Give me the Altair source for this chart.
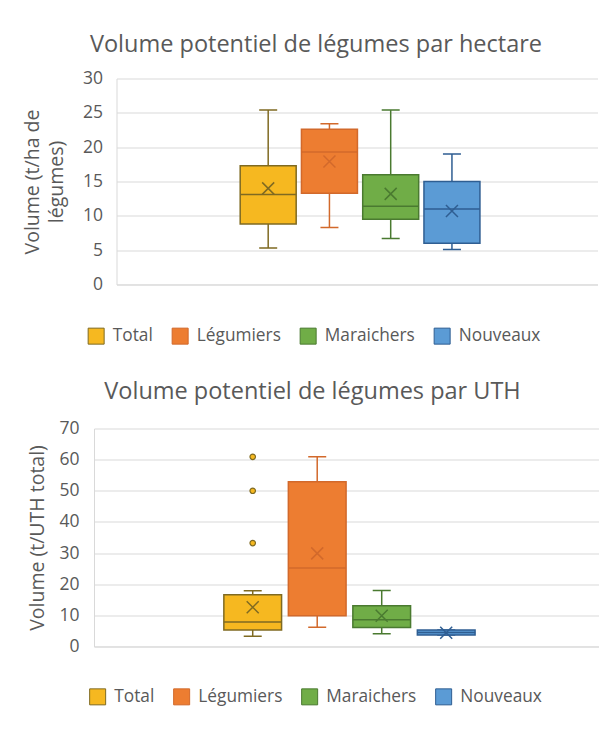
import altair as alt
import pandas as pd

series = ["Total", "Légumiers", "Maraichers", "Nouveaux"]
fill_colors = ["#F6B820", "#ED7D31", "#70AD47", "#5B9BD5"]
line_colors = ["#7F6A22", "#D2692B", "#4A7A30", "#2F5E92"]

# Volume par hectare
ha_low = [5.3, 8.3, 6.7, 5.1]
ha_q1 = [8.8, 13.3, 9.5, 6.0]
ha_med = [13.1, 19.3, 11.4, 11.0]
ha_q3 = [17.3, 22.6, 16.0, 15.0]
ha_high = [25.4, 23.4, 25.4, 19.0]
ha_mean = [14.0, 17.9, 13.2, 10.7]

# Volume par UTH
uth_low = [3.3, 6.2, 4.1, 3.7]
uth_q1 = [5.3, 9.9, 6.1, 3.7]
uth_med = [7.9, 25.2, 8.6, 4.5]
uth_q3 = [16.6, 52.9, 13.1, 5.3]
uth_high = [17.9, 60.9, 18.0, 5.3]
uth_mean = [12.6, 29.9, 9.9, 4.4]
uth_out_series = ["Total", "Total", "Total"]
uth_out_values = [60.9, 50.0, 33.2]

TEXT = "#595959"
GRID = "#D9D9D9"
FONT = "Open Sans"
X_SHAPE = "M-1,-1L1,1M-1,1L1,-1"


def panel(low, q1, med, q3, high, mean, out_s, out_v, title, title_dx,
          title_off, ytitle, ymax, ystep, width, height, group_pad,
          group_align, box_gap, lx, ly, label_pad, title_pad):
    df = pd.DataFrame({"grp": "g", "series": series, "low": low, "q1": q1,
                       "med": med, "q3": q3, "high": high, "mean": mean})
    leg = alt.Legend(title=None, orient="none", legendX=lx, legendY=ly,
                     direction="horizontal", symbolType="square",
                     symbolSize=256, symbolStrokeWidth=1, gridAlign="none",
                     labelFont=FONT, labelFontSize=17.3, labelColor=TEXT,
                     labelOffset=8, columnPadding=16)
    x = alt.X("grp:N",
              scale=alt.Scale(paddingInner=0, paddingOuter=group_pad,
                              align=group_align),
              axis=alt.Axis(labels=False, ticks=False, title=None,
                            domain=True, domainColor=GRID, grid=False))
    xo = alt.XOffset("series:N", sort=series,
                     scale=alt.Scale(domain=series, paddingInner=box_gap,
                                     paddingOuter=box_gap / 2))
    ysc = alt.Scale(domain=[0, ymax], nice=False)
    yaxis = alt.Axis(values=list(range(0, ymax + 1, ystep)), title=ytitle,
                     grid=True, gridColor=GRID, domain=True,
                     domainColor=GRID, ticks=False, labelPadding=label_pad,
                     titlePadding=title_pad, titleLineHeight=24,
                     labelOverlap=False, labelFontSize=17.5,
                     titleFontSize=19.5)

    def ych(field):
        return alt.Y(field, type="quantitative", scale=ysc, axis=yaxis)

    fill = alt.Fill("series:N", sort=series,
                    scale=alt.Scale(domain=series, range=fill_colors),
                    legend=leg)
    stroke = alt.Stroke("series:N", sort=series,
                        scale=alt.Scale(domain=series, range=line_colors),
                        legend=leg)
    base = alt.Chart(df)
    whisk = base.mark_rule(strokeWidth=1.5).encode(
        x=x, xOffset=xo, y=ych("low"), y2="high:Q", stroke=stroke)
    cap_lo = base.mark_bar(width=18, strokeWidth=1.5, fillOpacity=0).encode(
        x=x, xOffset=xo, y=ych("low"), y2="low:Q", stroke=stroke)
    cap_hi = base.mark_bar(width=18, strokeWidth=1.5, fillOpacity=0).encode(
        x=x, xOffset=xo, y=ych("high"), y2="high:Q", stroke=stroke)
    box = base.mark_bar(strokeWidth=1.5).encode(
        x=x, xOffset=xo, y=ych("q1"), y2="q3:Q", fill=fill, stroke=stroke)
    median = base.mark_bar(strokeWidth=1.5, fillOpacity=0).encode(
        x=x, xOffset=xo, y=ych("med"), y2="med:Q", stroke=stroke)
    meanp = base.mark_point(shape=X_SHAPE, filled=False, size=144,
                            strokeWidth=1.5, opacity=1).encode(
        x=x, xOffset=xo, y=ych("mean"), stroke=stroke)
    layers = [whisk, cap_lo, cap_hi, box, median, meanp]
    if out_v:
        odf = pd.DataFrame({"grp": "g", "series": out_s, "value": out_v})
        outl = alt.Chart(odf).mark_point(shape="circle", filled=True,
                                         size=30, strokeWidth=1.2,
                                         opacity=1).encode(
            x=x, xOffset=xo, y=ych("value"), fill=fill, stroke=stroke)
        layers.append(outl)
    return alt.layer(*layers).properties(
        width=width, height=height,
        title=alt.TitleParams(title, fontSize=23.5, font=FONT, color=TEXT,
                              fontWeight="normal", anchor="middle",
                              offset=title_off, dx=title_dx))


top = panel(ha_low, ha_q1, ha_med, ha_q3, ha_high, ha_mean, [], [],
            "Volume potentiel de légumes par hectare", -41, 13.5,
            ["Volume (t/ha de", "légumes)"], 30, 5, 481, 206, 0.4816, 0.513,
            0.086, -29, 249, 14, 16)
bottom = panel(uth_low, uth_q1, uth_med, uth_q3, uth_high, uth_mean,
               uth_out_series, uth_out_values,
               "Volume potentiel de légumes par UTH", -34, 15.8,
               "Volume (t/UTH total)", 70, 10, 505, 218, 0.4787, 0.512,
               0.105, -5, 259.7, 15, 11)

# invisible 1px spacer that shifts the upper panel to the right
spacer = alt.Chart(pd.DataFrame({"a": [0]})).mark_point(
    size=0, opacity=0, strokeWidth=0).properties(width=1, height=1)
top_row = alt.hconcat(spacer, top, spacing=-73.5).resolve_scale(
    fill="independent", stroke="independent",
    xOffset="independent").resolve_legend(
    fill="independent", stroke="independent")

chart = alt.vconcat(top_row, bottom, spacing=33).resolve_scale(
    fill="independent", stroke="independent", x="independent",
    y="independent", xOffset="independent").resolve_legend(
    fill="independent", stroke="independent").properties(
    padding={"left": 14, "top": 24.5, "right": 0, "bottom": 0}
).configure(font=FONT).configure_view(stroke=None).configure_axis(
    labelFont=FONT, labelColor=TEXT, titleFont=FONT,
    titleColor=TEXT, titleFontWeight="normal")

chart.save("out.html", embed_options={"renderer": "svg", "actions": False})
